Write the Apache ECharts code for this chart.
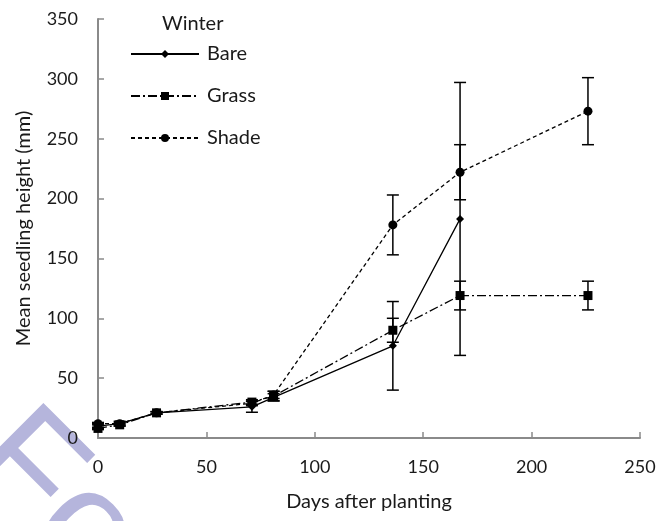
<!DOCTYPE html>
<html>
<head>
<meta charset="utf-8">
<script src="https://cdn.jsdelivr.net/npm/echarts@6/dist/echarts.min.js"></script>
<style>html,body{margin:0;padding:0;background:#fff}#c{width:660px;height:521px}</style>
</head>
<body>
<div id="c"></div>
<script>
const days = [0, 10, 27, 71, 81, 136, 167, 226];
const bareMean = [10, 12, 21, 26, 34, 77, 183];
const bareErr  = [2, 2, 1, 4.5, 3, 37, 114];
const grassMean = [8, 11, 21, 30, 35, 90, 119, 119];
const grassErr  = [1, 1, 1, 2, 4, 10, 12, 12];
const shadeMean = [12, 12, 21, 29, 36, 178, 222, 273];
const shadeErr  = [1, 1, 1, 2, 3, 25, 23, 28];
const xTicks = [0, 50, 100, 150, 200, 250];
const yTicks = [0, 50, 100, 150, 200, 250, 300, 350];

const FONT = 'Lato';
const TXT = '#1a1a1a';

function pts(mean) { return mean.map((v, i) => [days[i], v]); }
function errs(mean, err) { return mean.map((v, i) => [days[i], v - err[i], v + err[i]]); }

function errRender(params, api) {
  const x = api.value(0);
  const lo = api.coord([x, api.value(1)]);
  const hi = api.coord([x, api.value(2)]);
  const hw = 6;
  const st = { stroke: '#000', lineWidth: 1.5 };
  return {
    type: 'group',
    children: [
      { type: 'line', shape: { x1: lo[0], y1: lo[1], x2: hi[0], y2: hi[1] }, style: st },
      { type: 'line', shape: { x1: lo[0] - hw, y1: lo[1], x2: lo[0] + hw, y2: lo[1] }, style: st },
      { type: 'line', shape: { x1: hi[0] - hw, y1: hi[1], x2: hi[0] + hw, y2: hi[1] }, style: st }
    ]
  };
}

const chart = echarts.init(document.getElementById('c'), null, { renderer: 'canvas' });
chart.setOption({
  animation: false,
  backgroundColor: '#fff',
  textStyle: { fontFamily: FONT, color: TXT },
  title: {
    text: 'Winter', left: 157, top: 9,
    textStyle: { fontFamily: FONT, fontSize: 20, fontWeight: 'normal', color: TXT }
  },
  graphic: [{
    type: 'text', x: 44, y: 385, rotation: -Math.PI / 4, z: -10, silent: true,
    style: { text: 'For Peer Review', font: '150px "Liberation Sans"', fill: '#b5b5dc', textVerticalAlign: 'top' }
  }],
  legend: {
    orient: 'vertical', left: 125, top: 39,
    itemWidth: 68, itemHeight: 10, itemGap: 22,
    data: ['Bare', 'Grass', 'Shade'],
    textStyle: { fontFamily: FONT, fontSize: 20, color: TXT, padding: [0, 0, 0, 3] }
  },
  grid: { left: 98, right: 20, top: 19, bottom: 83 },
  xAxis: {
    type: 'value', min: xTicks[0], max: xTicks[xTicks.length - 1], interval: 50,
    name: 'Days after planting', nameLocation: 'middle', nameGap: 54,
    nameTextStyle: { fontFamily: FONT, fontSize: 20, color: TXT },
    axisLine: { show: true, onZero: false, lineStyle: { color: '#8a8a8a', width: 2 } },
    axisTick: { show: true, inside: true, length: 6, lineStyle: { color: '#8a8a8a', width: 1.5 } },
    axisLabel: { margin: 20, fontFamily: FONT, fontSize: 18, color: TXT },
    splitLine: { show: false }
  },
  yAxis: {
    type: 'value', min: yTicks[0], max: yTicks[yTicks.length - 1], interval: 50,
    name: 'Mean seedling height (mm)', nameLocation: 'middle', nameGap: 64,
    nameTextStyle: { fontFamily: FONT, fontSize: 20, color: TXT },
    axisLine: { show: true, onZero: false, lineStyle: { color: '#8a8a8a', width: 2 } },
    axisTick: { show: true, inside: true, length: 6, lineStyle: { color: '#8a8a8a', width: 1.5 } },
    axisLabel: { margin: 20, fontFamily: FONT, fontSize: 18, color: TXT },
    splitLine: { show: false }
  },
  series: [
    { type: 'custom', name: 'BareErr', renderItem: errRender, data: errs(bareMean, bareErr), z: 3 },
    { type: 'custom', name: 'GrassErr', renderItem: errRender, data: errs(grassMean, grassErr), z: 3 },
    { type: 'custom', name: 'ShadeErr', renderItem: errRender, data: errs(shadeMean, shadeErr), z: 3 },
    {
      type: 'line', name: 'Bare', data: pts(bareMean), symbol: 'diamond', symbolSize: 8, z: 4,
      lineStyle: { color: '#000', width: 1.3, type: 'solid' },
      itemStyle: { color: '#000' }
    },
    {
      type: 'line', name: 'Grass', data: pts(grassMean), symbol: 'rect', symbolSize: 9, z: 4,
      lineStyle: { color: '#000', width: 1.3, type: [9, 3, 2, 3] },
      itemStyle: { color: '#000' }
    },
    {
      type: 'line', name: 'Shade', data: pts(shadeMean), symbol: 'circle', symbolSize: 9, z: 4,
      lineStyle: { color: '#000', width: 1.3, type: [4, 3] },
      itemStyle: { color: '#000' }
    }
  ]
});
</script>
</body>
</html>
